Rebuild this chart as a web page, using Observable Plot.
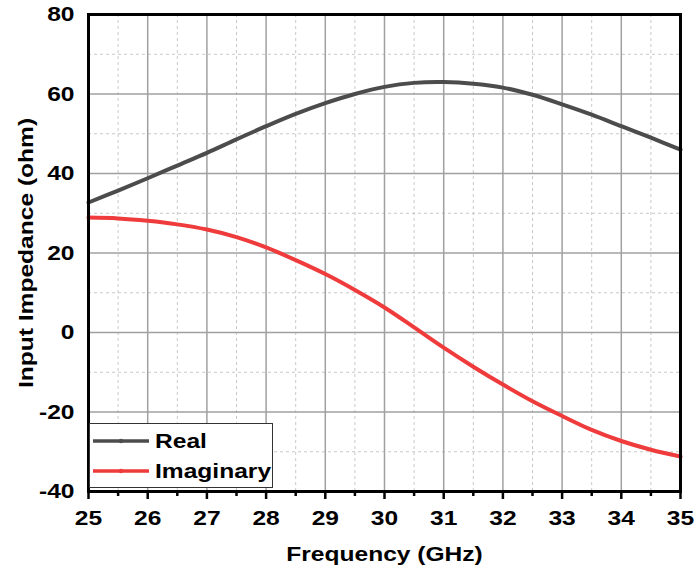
<!DOCTYPE html>
<html>
<head>
<meta charset="utf-8">
<script src="https://cdn.jsdelivr.net/npm/d3@7"></script>
<script src="https://cdn.jsdelivr.net/npm/@observablehq/plot@0.6"></script>
<style>
  html, body { margin: 0; padding: 0; background: #fff; }
  #wrap { position: relative; width: 695px; height: 578px; font-family: "Liberation Sans", Arial, sans-serif; }
  #legend { position: absolute; left: 89px; top: 423px; width: 184px; height: 65px; background: #fff; border: 1.5px solid #333; box-sizing: border-box; }
  .item { position: absolute; left: 1.5px; height: 24px; display: flex; align-items: center; font-weight: bold; font-size: 21px; color: #000; white-space: nowrap; }
  .item svg { margin-right: 6px; }
  .item span { display: inline-block; transform: scaleX(1.17); transform-origin: left center; }
</style>
</head>
<body>
<div id="wrap"></div>
<script>
const freq = [25, 25.5, 26, 26.5, 27, 27.5, 28, 28.5, 29, 29.5, 30, 30.5, 31, 31.5, 32, 32.5, 33, 33.5, 34, 34.5, 35];
const realZ = [32.7, 35.7, 38.8, 42.0, 45.2, 48.6, 51.9, 55.0, 57.7, 60.0, 61.8, 62.8, 63.0, 62.6, 61.6, 59.8, 57.4, 54.8, 51.9, 49.0, 46.0];
const imagZ = [28.9, 28.7, 28.1, 27.2, 25.9, 24.0, 21.4, 18.2, 14.7, 10.7, 6.3, 1.3, -3.8, -8.6, -13.1, -17.3, -21.0, -24.5, -27.3, -29.5, -31.2];
const xTicks = [25, 26, 27, 28, 29, 30, 31, 32, 33, 34, 35];
const xMinor = [25.5, 26.5, 27.5, 28.5, 29.5, 30.5, 31.5, 32.5, 33.5, 34.5];
const yTicks = [-40, -20, 0, 20, 40, 60, 80];
const yMinor = [-30, -10, 10, 30, 50, 70];
const seriesNames = ["Real", "Imaginary"];
const seriesColors = ["#4c4c4c", "#ef3b3b"];
const xLabel = "Frequency (GHz)";
const yLabel = "Input Impedance (ohm)";

const rows = [];
freq.forEach((f, i) => {
  rows.push({f, v: realZ[i], s: seriesNames[0]});
  rows.push({f, v: imagZ[i], s: seriesNames[1]});
});

const font = "Liberation Sans, Arial, sans-serif";
const FS = 21;
const chart = Plot.plot({
  width: 695,
  height: 578,
  marginLeft: 88,
  marginRight: 15,
  marginTop: 14,
  marginBottom: 87,
  style: {fontFamily: font, fontWeight: "bold", fontSize: FS + "px", color: "#000", background: "#fff"},
  x: {domain: [25, 35]},
  y: {domain: [-40, 80]},
  color: {domain: seriesNames, range: seriesColors},
  marks: [
    Plot.gridX(xMinor, {stroke: "#c8c8c8", strokeOpacity: 1, strokeDasharray: "3,3", strokeWidth: 1}),
    Plot.gridY(yMinor, {stroke: "#c8c8c8", strokeOpacity: 1, strokeDasharray: "3,3", strokeWidth: 1}),
    Plot.gridX(xTicks.slice(1, -1), {stroke: "#a0a0a0", strokeOpacity: 1, strokeWidth: 1.5}),
    Plot.gridY(yTicks.slice(1, -1), {stroke: "#a0a0a0", strokeOpacity: 1, strokeWidth: 1.5}),
    Plot.line(rows, {x: "f", y: "v", z: "s", stroke: "s", strokeWidth: 4, curve: "catmull-rom"}),
    Plot.frame({stroke: "#000", strokeWidth: 3}),
    Plot.axisX({ticks: xTicks, tickSize: 8, tickPadding: 11, tickFormat: d => d, label: null, strokeWidth: 2.5, fontSize: FS}),
    Plot.axisX({ticks: xMinor, tickSize: 5, text: null, label: null, strokeWidth: 2.5}),
    Plot.axisY({ticks: yTicks, tickSize: 0, tickPadding: 14, tickFormat: d => d, label: null, fontSize: FS}),
    Plot.text([yLabel], {frameAnchor: "left", textAnchor: "middle", dx: -62, rotate: -90, fontSize: FS, fontWeight: "bold"}),
    Plot.text([xLabel], {frameAnchor: "bottom", textAnchor: "middle", dy: 69, fontSize: FS, fontWeight: "bold"})
  ]
});
const wrap = document.getElementById("wrap");
wrap.appendChild(chart);

// widen glyphs along the text direction to match the reference's broader bold face
const STRETCH = 1.17;
d3.select(chart).selectAll("text").each(function() {
  const b = this.getBBox();
  if (!b.width) return;
  const anchor = getComputedStyle(this).textAnchor;
  const cx = anchor === "middle" ? b.x + b.width / 2 : anchor === "end" ? b.x + b.width : b.x;
  const t = this.getAttribute("transform");
  this.setAttribute("transform", (t ? t + " " : "") + `translate(${cx},0) scale(${STRETCH},1) translate(${-cx},0)`);
});

const legend = document.createElement("div");
legend.id = "legend";
seriesNames.forEach((name, i) => {
  const item = document.createElement("div");
  item.className = "item";
  item.style.top = (i === 0 ? 4.5 : 34.5) + "px";
  item.innerHTML = `<svg width="57" height="24"><line x1="1" x2="57" y1="12" y2="12" stroke="${seriesColors[i]}" stroke-width="3.5"/><circle cx="29" cy="12" r="2.2" fill="${seriesColors[i]}"/></svg><span>${name}</span>`;
  legend.appendChild(item);
});
wrap.appendChild(legend);
</script>
</body>
</html>
